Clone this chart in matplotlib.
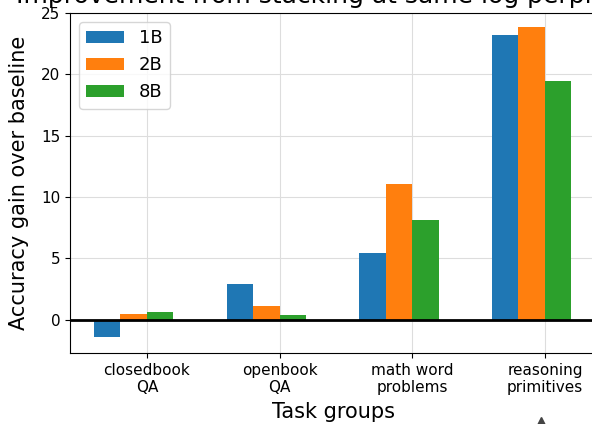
import numpy as np
import matplotlib
matplotlib.use('Agg')
from matplotlib import pyplot as plt
from matplotlib.lines import Line2D

groups = ['closedbook\nQA', 'openbook\nQA', 'math word\nproblems', 'reasoning\nprimitives']
sizes = ['1B', '2B', '8B']
gain_1b = [-1.4, 2.95, 5.45, 23.2]
gain_2b = [0.45, 1.1, 11.1, 23.9]
gain_8b = [0.65, 0.4, 8.1, 19.5]
colors = ['#1f77b4', '#ff7f0e', '#2ca02c']

fig = plt.figure(figsize=(5.92, 4.24), dpi=100)
# axes run a bit off the right edge, like the cropped original
ax = fig.add_axes([70/592, 71/424, 528/592, 340/424])

x = np.arange(len(groups))
w = 0.2
for k, (vals, lab) in enumerate(zip([gain_1b, gain_2b, gain_8b], sizes)):
    ax.bar(x - 0.4 + k*w, vals, width=w, align='edge', color=colors[k], label=lab, zorder=3)

ax.axhline(0, color='black', lw=2, zorder=4)
ax.set_xlim(-0.58, 3.4)
ax.set_ylim(-2.7, 25)
ax.set_xticks(x)
ax.set_xticklabels(groups, fontsize=11)
ax.tick_params(axis='y', labelsize=11)
ax.grid(True, color='#dddddd', zorder=0)
ax.set_xlabel('Task groups', fontsize=15, labelpad=5)
ax.set_ylabel('Accuracy gain over baseline', fontsize=15, labelpad=9)
ax.set_title('Improvement from stacking at same log perplexity', fontsize=18, pad=7)
ax.legend(loc='upper left', fontsize=13, handlelength=2.1)

# arrow head peeking in at the bottom edge
fig.add_artist(Line2D([541/592], [1 - 423/424], marker='^', markersize=9,
                      color='#444444', transform=fig.transFigure))

fig.savefig('out.png', dpi=100)
